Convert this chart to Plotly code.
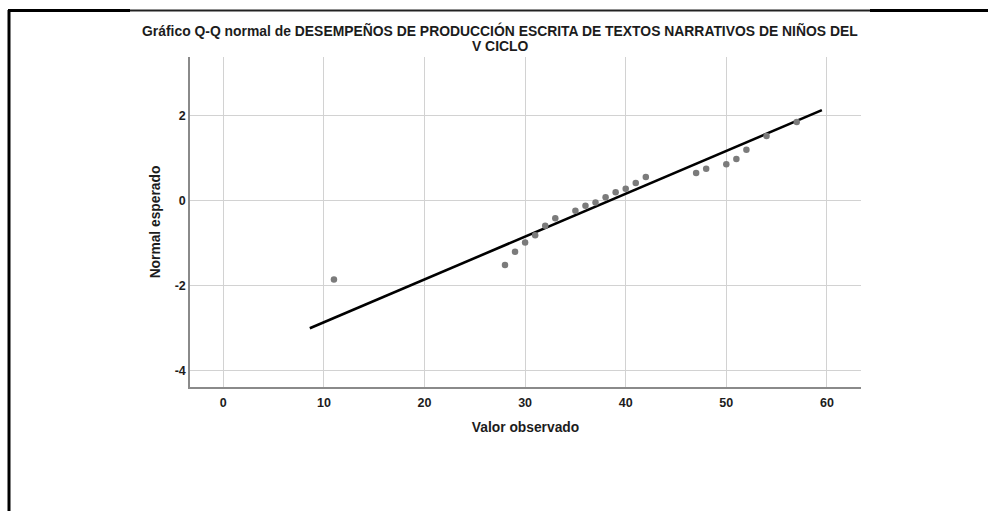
import plotly.graph_objects as go

# ---- data ----
observed = [11, 28, 29, 30, 31, 32, 33, 35, 36, 37, 38, 39, 40, 41, 42,
            47, 48, 50, 51, 52, 54, 57]
expected = [-1.86, -1.52, -1.21, -0.99, -0.82, -0.60, -0.42, -0.245, -0.13, -0.05,
            0.07, 0.19, 0.27, 0.41, 0.55, 0.64, 0.74, 0.85, 0.97, 1.19, 1.51, 1.84]
line_x = [8.6, 59.5]
line_y = [-3.01, 2.12]
x_ticks = [0, 10, 20, 30, 40, 50, 60]
x_tick_labels = ["0", "10", "20", "30", "40", "50", "60"]
y_ticks = [-4, -2, 0, 2]
y_tick_labels = ["-4", "-2", "0", "2"]
title_lines = ["Gráfico Q-Q normal de DESEMPEÑOS DE PRODUCCIÓN ESCRITA DE TEXTOS NARRATIVOS DE NIÑOS DEL",
               "V CICLO"]
x_title = "Valor observado"
y_title = "Normal esperado"

W, H = 988, 511
L, R, T, B = 190, 127, 57, 124
PW, PH = W - L - R, H - T - B


def px(x):
    return (x - L) / PW


def py(y):
    return 1 - (y - T) / PH


FONT = "Arial, Liberation Sans, sans-serif"
TXT = "#1c1c1c"


def b(s):
    return "<b>" + s + "</b>"


fig = go.Figure()
fig.add_trace(go.Scatter(x=line_x, y=line_y, mode="lines",
                         line=dict(color="black", width=2.6), hoverinfo="skip"))
fig.add_trace(go.Scatter(x=observed, y=expected, mode="markers",
                         marker=dict(color="#7b7b7b", size=6.5, line=dict(width=0))))

fig.update_layout(
    width=W, height=H,
    margin=dict(l=L, r=R, t=T, b=B),
    paper_bgcolor="white", plot_bgcolor="white",
    showlegend=False,
    font=dict(family=FONT, size=12, color=TXT),
)
fig.update_xaxes(range=[-3.31, 63.39], tickvals=x_ticks, ticktext=[b(t) for t in x_tick_labels],
                 showgrid=True, gridcolor="#d2d2d2", gridwidth=1, zeroline=False,
                 showline=True, linecolor="#8a8a8a", linewidth=1.5,
                 ticks="", ticklen=0, tickfont=dict(size=12.5), ticklabelstandoff=3,
                 title=dict(text=b(x_title), font=dict(size=13.8), standoff=14))
fig.update_yaxes(range=[-4.39, 3.37], tickvals=y_ticks, ticktext=[b(t) for t in y_tick_labels],
                 showgrid=True, gridcolor="#d2d2d2", gridwidth=1, zeroline=False,
                 showline=True, linecolor="#8a8a8a", linewidth=1.5,
                 ticks="", ticklen=0, tickfont=dict(size=12.5),
                 title=dict(text=b(y_title), font=dict(size=13.8), standoff=11))

# title as two tightly spaced lines
for i, t in enumerate(title_lines):
    fig.add_annotation(text=b(t), xref="paper", yref="paper", x=px(500), y=py(30 + 16 * i),
                       xanchor="center", yanchor="middle", showarrow=False, borderpad=0,
                       font=dict(size=13.9, family=FONT, color=TXT))

# screenshot frame lines
fig.add_shape(type="line", xref="paper", yref="paper", x0=px(9), x1=px(9), y0=py(10), y1=py(520),
              line=dict(color="black", width=3))
fig.add_shape(type="line", xref="paper", yref="paper", x0=px(8), x1=px(995), y0=py(10.5), y1=py(10.5),
              line=dict(color="#222222", width=1.8))
fig.add_shape(type="line", xref="paper", yref="paper", x0=px(8), x1=px(130), y0=py(10.5), y1=py(10.5),
              line=dict(color="black", width=2.8))
fig.add_shape(type="line", xref="paper", yref="paper", x0=px(870), x1=px(995), y0=py(10.5), y1=py(10.5),
              line=dict(color="black", width=2.8))

fig.write_html("out.html", config={"displayModeBar": False},
               post_script="document.body.style.margin='0';")
